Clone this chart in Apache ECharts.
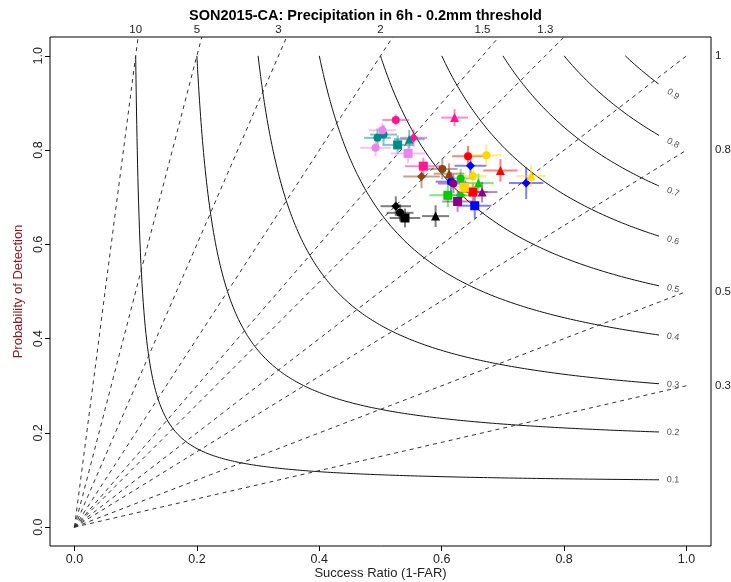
<!DOCTYPE html>
<html lang="en">
<head>
  <meta charset="UTF-8">
  <title>SON2015-CA performance diagram</title>
  <script src="https://cdn.jsdelivr.net/npm/echarts@6.0.0/dist/echarts.min.js"></script>
  <style>
    html, body { margin: 0; background: #fff; }
    #main { width: 731px; height: 582px; }
  </style>
</head>
<body>
<div id="main"></div>
<script>
  // CSI contours (solid) and frequency bias lines (dashed)
  var csiLevels = [0.1, 0.2, 0.3, 0.4, 0.5, 0.6, 0.7, 0.8, 0.9];
  var biasLevels = [0.3, 0.5, 0.8, 1, 1.3, 1.5, 2, 3, 5, 10];
  var axisTicks = [0, 0.2, 0.4, 0.6, 0.8, 1.0];

  // each point: [success ratio, POD, SR error, POD error, marker]
  var ptsBlack = [
    [0.525, 0.681, 0.025, 0.021, 'diamond'],
    [0.532, 0.667, 0.022, 0.018, 'circle'],
    [0.540, 0.656, 0.025, 0.020, 'rect'],
    [0.590, 0.660, 0.022, 0.023, 'triangle']
  ];
  var ptsRed = [
    [0.643, 0.787, 0.026, 0.022, 'circle'],
    [0.696, 0.757, 0.028, 0.024, 'triangle'],
    [0.651, 0.711, 0.024, 0.020, 'rect']
  ];
  var ptsGreen = [
    [0.631, 0.740, 0.025, 0.020, 'circle'],
    [0.660, 0.730, 0.025, 0.020, 'triangle'],
    [0.610, 0.704, 0.030, 0.025, 'rect'],
    [0.631, 0.704, 0.025, 0.022, 'diamond']
  ];
  var ptsBlue = [
    [0.647, 0.767, 0.026, 0.022, 'diamond'],
    [0.738, 0.730, 0.028, 0.034, 'diamond'],
    [0.654, 0.682, 0.027, 0.027, 'rect'],
    [0.615, 0.733, 0.025, 0.020, 'circle']
  ];
  var ptsGold = [
    [0.673, 0.789, 0.025, 0.023, 'circle'],
    [0.746, 0.745, 0.024, 0.023, 'triangle'],
    [0.637, 0.721, 0.024, 0.022, 'rect'],
    [0.651, 0.745, 0.022, 0.020, 'circle']
  ];
  var ptsPurple = [
    [0.619, 0.729, 0.025, 0.020, 'circle'],
    [0.666, 0.711, 0.025, 0.022, 'triangle'],
    [0.626, 0.691, 0.025, 0.022, 'rect']
  ];
  var ptsSienna = [
    [0.601, 0.760, 0.025, 0.022, 'circle'],
    [0.612, 0.750, 0.025, 0.022, 'triangle'],
    [0.567, 0.744, 0.030, 0.025, 'diamond']
  ];
  var ptsPink = [
    [0.525, 0.864, 0.022, 0.012, 'circle'],
    [0.621, 0.869, 0.022, 0.018, 'triangle'],
    [0.554, 0.826, 0.022, 0.018, 'diamond'],
    [0.570, 0.766, 0.030, 0.018, 'rect']
  ];
  var ptsTeal = [
    [0.495, 0.826, 0.022, 0.020, 'circle'],
    [0.505, 0.833, 0.022, 0.020, 'circle'],
    [0.528, 0.811, 0.025, 0.020, 'rect'],
    [0.547, 0.823, 0.025, 0.020, 'triangle']
  ];
  var ptsOrchid = [
    [0.503, 0.842, 0.022, 0.015, 'circle'],
    [0.492, 0.805, 0.025, 0.018, 'circle'],
    [0.545, 0.793, 0.028, 0.020, 'rect']
  ];

  var groups = [
    { pts: ptsBlack, color: '#000000' },
    { pts: ptsRed, color: '#ff0000' },
    { pts: ptsGreen, color: '#00cd00' },
    { pts: ptsBlue, color: '#0000ff' },
    { pts: ptsGold, color: '#ffd700' },
    { pts: ptsPurple, color: '#8b008b' },
    { pts: ptsSienna, color: '#8b4513' },
    { pts: ptsPink, color: '#ff1493' },
    { pts: ptsTeal, color: '#008b8b' },
    { pts: ptsOrchid, color: '#ee82ee' }
  ];

  var font = 'Liberation Sans, Arial, sans-serif';
  var labelEnd = 0.978;  // where R put the contour labels
  var lineEnd = 0.955;

  function csiPod(c, sr) {
    return 1 / (1 / c - 1 / sr + 1);
  }

  var series = [];

  // CSI curves
  csiLevels.forEach(function (c) {
    var d = [];
    var n = 200;
    for (var i = 0; i <= n; i++) {
      var sr = c + (lineEnd - c) * Math.pow(i / n, 2);
      d.push([sr, csiPod(c, sr)]);
    }
    series.push({
      type: 'line', data: d, showSymbol: false, silent: true, z: 1,
      lineStyle: { color: '#111', width: 1 }
    });
  });

  // CSI labels, turned along the curve
  var csiLabelData = csiLevels.map(function (c) {
    var p = csiPod(c, labelEnd);
    var slope = -p * p / (labelEnd * labelEnd) * (470 / 612);
    return {
      value: [labelEnd, p],
      label: { rotate: Math.atan(slope) * 180 / Math.PI, formatter: String(c) }
    };
  });
  series.push({
    type: 'scatter', data: csiLabelData, symbolSize: 0, silent: true, z: 2,
    label: { show: true, position: 'inside', fontSize: 9, color: '#222', fontFamily: font }
  });

  // bias lines
  biasLevels.forEach(function (b) {
    var end = b > 1 ? [1.04 / b, 1.04] : [1, b];
    series.push({
      type: 'line', data: [[0, 0], end], showSymbol: false, silent: true, z: 1,
      lineStyle: { color: '#333', width: 1, type: [4, 4] }
    });
  });

  // error bars then markers
  groups.forEach(function (g) {
    series.push({
      type: 'custom', z: 3, silent: true,
      data: g.pts.map(function (p) { return [p[0], p[1], p[2], p[3]]; }),
      renderItem: function (params, api) {
        var x = api.value(0), y = api.value(1), dx = api.value(2), dy = api.value(3);
        var a = api.coord([x - dx, y]), b = api.coord([x + dx, y]);
        var c = api.coord([x, y - dy]), e = api.coord([x, y + dy]);
        var st = { stroke: g.color, lineWidth: 2, opacity: 0.5 };
        return {
          type: 'group',
          children: [
            { type: 'line', shape: { x1: a[0], y1: a[1], x2: b[0], y2: b[1] }, style: st },
            { type: 'line', shape: { x1: c[0], y1: c[1], x2: e[0], y2: e[1] }, style: st }
          ]
        };
      }
    });
    series.push({
      type: 'scatter', z: 4,
      data: g.pts.map(function (p) {
        return { value: [p[0], p[1]], symbol: p[4], symbolSize: p[4] === 'circle' ? 8 : 9 };
      }),
      itemStyle: { color: g.color, opacity: 1 }
    });
  });

  var chart = echarts.init(document.getElementById('main'));
  chart.setOption({
    animation: false,
    backgroundColor: '#fff',
    title: {
      text: 'SON2015-CA: Precipitation in 6h - 0.2mm threshold',
      left: 'center', top: 3,
      textStyle: { fontSize: 14.5, fontWeight: 'bold', color: '#000', fontFamily: font }
    },
    grid: {
      left: 50, right: 20, top: 37, bottom: 36, outerBoundsMode: 'none',
      show: true, borderColor: '#000', borderWidth: 1
    },
    xAxis: [{
      type: 'value', min: -0.04, max: 1.04,
      name: 'Success Ratio (1-FAR)', nameLocation: 'middle', nameGap: 20.5, nameMoveOverlap: false,
      nameTextStyle: { fontSize: 13, color: '#222', fontFamily: font },
      axisLine: { show: false, onZero: false },
      splitLine: { show: false },
      axisTick: { show: true, length: 5, lineStyle: { color: '#000' }, customValues: axisTicks },
      axisLabel: {
        customValues: axisTicks, fontSize: 12.5, color: '#222', fontFamily: font, margin: 7,
        formatter: function (v) { return v.toFixed(1); }
      }
    }, {
      type: 'value', min: -0.04, max: 1.04, position: 'top',
      axisLine: { show: false, onZero: false }, splitLine: { show: false }, axisTick: { show: false },
      axisLabel: {
        customValues: biasLevels.filter(function (b) { return b > 1; }).map(function (b) { return 1 / b; }),
        fontSize: 11.5, color: '#222', fontFamily: font, margin: 1,
        formatter: function (v) {
          var b = biasLevels.filter(function (q) { return Math.abs(1 / q - v) < 1e-6; })[0];
          return String(b);
        }
      }
    }],
    yAxis: [{
      type: 'value', min: -0.04, max: 1.04,
      name: 'Probability of Detection', nameLocation: 'middle', nameGap: 25, nameMoveOverlap: false,
      nameTextStyle: { fontSize: 13, color: '#8b1a1a', fontFamily: font },
      axisLine: { show: false, onZero: false },
      splitLine: { show: false },
      axisTick: { show: true, length: 5, lineStyle: { color: '#000' }, customValues: axisTicks },
      axisLabel: {
        customValues: axisTicks, rotate: 90, fontSize: 12.5, color: '#222', fontFamily: font, margin: 5,
        formatter: function (v) { return v.toFixed(1); }
      }
    }, {
      type: 'value', min: -0.04, max: 1.04, position: 'right',
      axisLine: { show: false, onZero: false }, splitLine: { show: false }, axisTick: { show: false },
      axisLabel: {
        customValues: biasLevels.filter(function (b) { return b <= 1; }),
        fontSize: 11.5, color: '#222', fontFamily: font, margin: 4,
        formatter: function (v) { return String(v); }
      }
    }],
    series: series
  });
</script>
</body>
</html>
